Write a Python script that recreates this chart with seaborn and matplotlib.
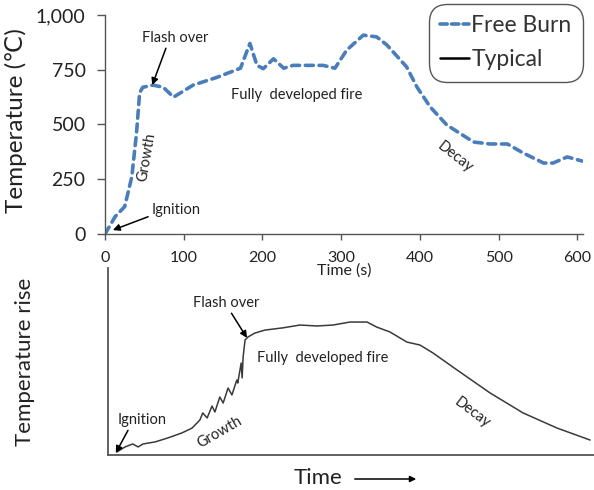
import matplotlib
matplotlib.use("Agg")
import matplotlib.pyplot as plt
import matplotlib.ticker as mticker
from matplotlib.lines import Line2D
from matplotlib.patches import FancyArrowPatch
import seaborn as sns
import pandas as pd

sns.set_style("white")
plt.rcParams["font.family"] = ["Lato", "DejaVu Sans"]

# Free burn test: time (s) and gas temperature (°C)
free_burn_time = [0, 13, 25, 34, 40, 44, 48, 61, 74, 87, 112, 142, 172, 184, 193,
                  201, 214, 227, 239, 277, 292, 307, 328, 345, 358, 375, 383, 396,
                  413, 434, 468, 489, 511, 531, 557, 569, 587, 606]
free_burn_temp = [0, 80, 125, 260, 460, 645, 670, 680, 670, 625, 680, 715, 757, 870,
                  770, 755, 800, 757, 770, 770, 757, 840, 908, 900, 863, 795, 763,
                  672, 580, 498, 420, 411, 411, 370, 324, 324, 352, 333]

# Typical fire curve (relative time, relative temperature rise)
typical_time = [1.8, 3.5, 5.1, 6.2, 7.2, 9.7, 12.3, 15.2, 17.3, 18.9, 19.5, 20.4,
                21.4, 22.0, 23.0, 23.7, 24.7, 25.5, 26.5, 26.7, 27.4, 27.6, 27.8,
                28.2, 28.8, 30.2, 32.3, 36.0, 39.5, 43.0, 46.3, 49.8, 53.3, 55.3,
                58.0, 61.5, 64.2, 66.9, 71.8, 78.6, 85.4, 92.4, 99.2]
typical_rise = [1.6, 4.3, 5.9, 4.3, 5.9, 7.0, 9.1, 11.8, 14.4, 18.7, 22.5, 19.8,
                26.2, 23.0, 31.0, 27.8, 35.8, 32.1, 40.1, 38.5, 49.2, 41.2, 52.4,
                61.5, 63.1, 65.2, 66.8, 68.0, 69.5, 69.0, 69.5, 71.1, 71.1, 68.4,
                65.8, 60.4, 58.8, 54.5, 45.5, 33.2, 22.5, 14.4, 8.0]

x_ticks = [0, 100, 200, 300, 400, 500, 600]
y_ticks = [0, 250, 500, 750, 1000]
series_names = ["Free Burn", "Typical"]

BLUE = "#4a7ebb"
TEXT = "#222222"
ANN = 10.5

fig = plt.figure(figsize=(5.94, 4.90), dpi=100)
W, H = 594, 490

# ---------- upper panel: measured free burn ----------
ax1 = fig.add_axes([105 / W, 1 - 234 / H, (583 - 105) / W, 219 / H])
df1 = pd.DataFrame({"Time (s)": free_burn_time, "Temperature": free_burn_temp})
sns.lineplot(data=df1, x="Time (s)", y="Temperature", ax=ax1, color=BLUE,
             linewidth=2.6, estimator=None, sort=False, legend=False)
line1 = ax1.get_lines()[0]
line1.set_dashes((2.2, 1.6))
line1.set_dash_capstyle("round")
line1.set_solid_joinstyle("round")

ax1.set_xlim(0, 607)
ax1.set_ylim(0, 1000)
ax1.set_xticks(x_ticks)
ax1.set_yticks(y_ticks)
ax1.yaxis.set_major_formatter(mticker.FuncFormatter(lambda v, p: f"{int(v):,}"))
for s in ["top", "right"]:
    ax1.spines[s].set_visible(False)
for s in ["left", "bottom"]:
    ax1.spines[s].set_color("#555555")
    ax1.spines[s].set_linewidth(1.0)
ax1.tick_params(axis="y", direction="out", length=6, width=1, color="#555555",
                labelsize=14, labelcolor=TEXT, pad=8, left=True)
ax1.tick_params(axis="x", direction="out", length=4, width=1, color="#555555",
                labelsize=11.5, labelcolor=TEXT, pad=8, bottom=True)
ax1.set_xlabel("Time (s)", fontsize=11.5, color=TEXT, labelpad=-1)
ax1.set_ylabel("Temperature (\u2103)", fontsize=17.5, color=TEXT)
ax1.yaxis.set_label_coords(-0.163, 0.52)

arrow = dict(arrowstyle="-|>", color="black", lw=1.1, mutation_scale=10,
             shrinkA=0, shrinkB=0)
ax1.annotate("Flash over", xy=(60, 680), xytext=(89, 895), fontsize=ANN,
             ha="center", va="center", color=TEXT,
             arrowprops=dict(arrow, relpos=(0.38, 0.0)))
ax1.annotate("Ignition", xy=(10, 18), xytext=(90, 110), fontsize=ANN,
             ha="center", va="center", color=TEXT,
             arrowprops=dict(arrow, relpos=(0.0, 0.1)))
ax1.text(53, 352, "Growth", fontsize=ANN, rotation=80, ha="center", va="center",
         color=TEXT)
ax1.text(244, 635, "Fully  developed fire", fontsize=ANN, ha="center",
         va="center", color=TEXT)
ax1.text(445, 352, "Decay", fontsize=ANN, rotation=-38, ha="center",
         va="center", color=TEXT)

# ---------- lower panel: typical fire curve ----------
ax2 = fig.add_axes([108 / W, 1 - 455 / H, (W - 108) / W, (455 - 268) / H])
ax2.patch.set_alpha(0)
df2 = pd.DataFrame({"Time": typical_time, "Temperature rise": typical_rise})
sns.lineplot(data=df2, x="Time", y="Temperature rise", ax=ax2, color="#3a3a3a",
             linewidth=1.1, estimator=None, sort=False, legend=False)
ax2.set_xlim(0, 100)
ax2.set_ylim(0, 100)
ax2.set_xticks([])
ax2.set_yticks([])
for s in ["top", "right"]:
    ax2.spines[s].set_visible(False)
for s in ["left", "bottom"]:
    ax2.spines[s].set_color("#555555")
    ax2.spines[s].set_linewidth(1.3)
ax2.set_xlabel("")
ax2.set_ylabel("Temperature rise", fontsize=16, color=TEXT)
ax2.yaxis.set_label_coords(-0.150, 0.50)

ax2.annotate("Flash over", xy=(28.6, 62.6), xytext=(24.3, 81.3), fontsize=ANN,
             ha="center", va="center", color=TEXT,
             arrowprops=dict(arrow, relpos=(0.55, 0.0)))
ax2.annotate("Ignition", xy=(1.6, 1.1), xytext=(7.0, 18.7), fontsize=ANN,
             ha="center", va="center", color=TEXT,
             arrowprops=dict(arrow, relpos=(0.25, 0.0)))
ax2.text(23.0, 12.3, "Growth", fontsize=ANN, rotation=30, ha="center",
         va="center", color=TEXT)
ax2.text(44.2, 51.9, "Fully  developed fire", fontsize=ANN, ha="center",
         va="center", color=TEXT)
ax2.text(74.9, 22.5, "Decay", fontsize=ANN, rotation=-37, ha="center",
         va="center", color=TEXT)

# axis caption with a direction arrow
fig.text(318 / W, 1 - 478 / H, "Time", fontsize=16, ha="center", va="center",
         color=TEXT)
fig.add_artist(FancyArrowPatch(
    (352 / W, 1 - 479 / H), (419 / W, 1 - 479 / H), transform=fig.transFigure,
    arrowstyle="-|>", mutation_scale=9, color="black", lw=1.1))

# legend collecting both curves
h_free = Line2D([], [], color=BLUE, linewidth=2.6, dashes=(2.0, 1.2),
                dash_capstyle="round")
h_typ = Line2D([], [], color="black", linewidth=1.8)
leg = ax1.legend(handles=[h_free, h_typ], labels=series_names,
                 loc="upper right", bbox_to_anchor=(583 / W, 1 - 4 / H),
                 bbox_transform=fig.transFigure, fontsize=16.5, frameon=True,
                 fancybox=True, framealpha=1, edgecolor="#555555",
                 handlelength=1.25, handletextpad=0.1, borderpad=0.5,
                 labelspacing=0.55, borderaxespad=0)
for t in leg.get_texts():
    t.set_color("#333333")
leg.get_frame().set_linewidth(1.0)
leg.get_frame().set_boxstyle("round,pad=0,rounding_size=0.8")

fig.savefig("out.png", dpi=100)
